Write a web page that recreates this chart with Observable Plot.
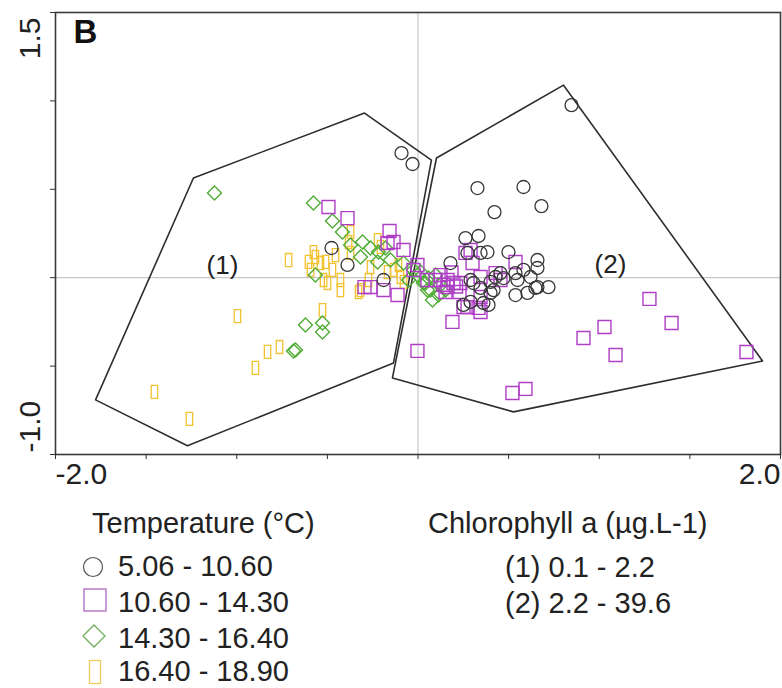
<!DOCTYPE html>
<html>
<head>
<meta charset="utf-8">
<script src="https://cdn.jsdelivr.net/npm/d3@7"></script>
<script src="https://cdn.jsdelivr.net/npm/@observablehq/plot@0.6"></script>
<style>
  body { margin: 0; background: #fff; font-family: "Liberation Sans", Arial, sans-serif; }
  #chart svg, #legend { display: block; }
</style>
</head>
<body>
<div id="chart"></div>
<svg id="legend" width="782" height="186" xmlns="http://www.w3.org/2000/svg" font-family="Liberation Sans, Arial, sans-serif" font-size="29" fill="#222">
  <text x="92" y="31">Temperature (°C)</text>
  <circle cx="93" cy="65" r="9.5" fill="none" stroke="#555" stroke-width="1.2"></circle>
  <text x="118" y="74">5.06 - 10.60</text>
  <rect x="84" y="87" width="22" height="22" fill="none" stroke="#b272c8" stroke-width="1.4"></rect>
  <text x="118" y="110">10.60 - 14.30</text>
  <path d="M94,123 L105,134 L94,145 L83,134 Z" fill="none" stroke="#6fae5c" stroke-width="1.3"></path>
  <text x="118" y="146">14.30 - 16.40</text>
  <rect x="89.5" y="158.5" width="11" height="23" fill="none" stroke="#f0cc5a" stroke-width="1.3"></rect>
  <text x="118" y="179">16.40 - 18.90</text>
  <text x="428" y="31">Chlorophyll a (µg.L-1)</text>
  <text x="505" y="75">(1) 0.1 - 2.2</text>
  <text x="505" y="111">(2) 2.2 - 39.6</text>
</svg>
<script>
// Temperature classes (°C): sample scores [axis1, axis2]
const temp_5_10 = [
  [-0.091,0.705],[-0.030,0.643],[0.847,0.976],[0.328,0.507],[0.582,0.513],[0.422,0.371],
  [0.681,0.405],[0.262,0.224],[0.334,0.236],[-0.477,0.168],[-0.389,0.072],[-0.190,-0.013],
  [0.383,0.145],[0.499,0.145],[0.179,0.083],[0.659,0.100],[0.659,0.055],[0.455,0.026],
  [0.538,0.026],[0.582,0.044],[0.621,0.004],[0.306,-0.030],[0.400,-0.024],[0.472,-0.002],
  [0.549,-0.013],[0.659,-0.053],[0.720,-0.053],[0.538,-0.098],[0.604,-0.086],[0.648,-0.058],
  [0.400,-0.086],[0.361,-0.143],[0.389,-0.154],[0.251,-0.154],[0.345,-0.058],[0.428,0.004],
  [0.273,0.140],[0.290,-0.013],[0.417,-0.070],[0.290,-0.137],[0.345,0.140]
];
const temp_10_14 = [
  [-0.494,0.400],[-0.389,0.337],[-0.157,0.264],[-0.135,0.202],[-0.080,0.157],[-0.003,0.072],
  [-0.295,-0.053],[-0.190,-0.070],[-0.113,-0.098],[0.052,-0.013],[-0.003,-0.414],[0.521,-0.652],
  [0.593,-0.629],[0.913,-0.341],[1.029,-0.279],[1.090,-0.437],[1.277,-0.120],[1.399,-0.256],
  [1.812,-0.420],[0.190,-0.250],[0.262,0.140],[0.163,-0.013],[0.234,-0.030],[0.251,-0.166],
  [0.334,-0.171],[0.345,-0.109],[0.428,0.026],[0.538,0.089],[0.290,0.157],[0.196,-0.030],
  [0.345,0.004],[0.163,-0.053],[0.273,-0.166],[0.345,-0.194],[0.455,-0.013],[0.124,0.015],
  [0.097,-0.013],[0.152,-0.081],[0.229,-0.081],[-0.262,-0.053],[-0.168,0.196],[-0.025,0.044],
  [0.301,0.083],[0.185,0.030],[0.210,-0.050],[0.140,-0.040]
];
const temp_14_16 = [
  [-1.123,0.479],[-0.577,0.423],[-0.472,0.321],[-0.417,0.258],[-0.306,0.202],[-0.262,0.168],
  [-0.218,0.145],[-0.179,0.168],[-0.317,0.117],[-0.566,0.015],[-0.223,0.089],[-0.152,0.100],
  [-0.080,0.083],[-0.003,0.015],[0.030,-0.030],[0.052,-0.070],[-0.621,-0.268],[-0.527,-0.256],
  [-0.527,-0.307],[-0.687,-0.414],[-0.676,-0.409],[0.014,0.032],[0.058,-0.002],[0.097,0.015],
  [0.124,-0.041],[0.069,-0.070],[0.113,-0.098],[0.041,-0.030],[0.152,-0.070],[0.080,-0.126],
  [-0.025,0.044],[-0.052,-0.013],[-0.372,0.185]
];
const temp_16_19 = [
  [-0.714,0.100],[-0.604,0.089],[-0.566,0.117],[-0.538,0.083],[-0.499,-0.030],[-0.428,-0.013],
  [-0.428,-0.070],[-0.328,-0.081],[-0.996,-0.217],[-0.527,-0.183],[-0.764,-0.392],[-0.830,-0.420],
  [-0.897,-0.510],[-1.454,-0.646],[-1.261,-0.799],[-0.577,0.145],[-0.510,0.089],[-0.472,0.044],
  [-0.521,-0.013],[-0.372,0.140],[-0.383,0.202],[-0.372,0.258],[-0.223,0.213],[-0.207,0.174],
  [-0.262,0.060],[-0.168,0.032],[-0.097,0.004],[-0.080,-0.024],[-0.317,-0.070],[-0.273,-0.013],
  [-0.135,0.044],[-0.108,0.072],[-0.455,0.128],[-0.593,0.044]
];
// Chlorophyll a groups: hull vertices
const hullGroup1 = [[-0.295,0.931],[0.074,0.665],[-0.135,-0.482],[-1.272,-0.951],[-1.779,-0.691],[-1.239,0.564]];
const hullGroup2 = [[0.102,0.677],[0.803,1.089],[1.901,-0.471],[0.527,-0.759],[-0.141,-0.567]];
const groupLabels = [{x: -1.079, y: 0.066, label: "(1)"}, {x: 1.062, y: 0.072, label: "(2)"}];
// Axis ticks
const xTicks = [-2, -1.5, -1, -0.5, 0, 0.5, 1, 1.5, 2];
const yTicks = [-1, -0.5, 0, 0.5, 1, 1.5];
const xTickLabels = [{v: -2, t: "-2.0"}, {v: 2, t: "2.0"}];
const yTickLabels = [{v: -1, t: "-1.0"}, {v: 1.5, t: "1.5"}];

const narrowRect = {
  draw(ctx, size) {
    const s = Math.sqrt(size / Math.PI);
    const w = 0.46 * s, h = 0.93 * s;
    ctx.moveTo(-w, -h); ctx.lineTo(w, -h); ctx.lineTo(w, h); ctx.lineTo(-w, h); ctx.closePath();
  }
};
const X = d => d[0], Y = d => d[1];
const font = '"Liberation Sans", Arial, sans-serif';

const chart = Plot.plot({
  width: 782, height: 502,
  marginLeft: 55, marginRight: 2, marginTop: 12, marginBottom: 48,
  style: {fontFamily: font, background: "#fff", overflow: "visible"},
  x: {domain: [-2, 2]},
  y: {domain: [-1, 1.5]},
  marks: [
    Plot.ruleX([0], {stroke: "#c6c6c6", strokeWidth: 1.2}),
    Plot.ruleY([0], {stroke: "#c6c6c6", strokeWidth: 1.2}),
    Plot.line(hullGroup1, {x: X, y: Y, curve: "linear-closed", stroke: "#2e2e2e", strokeWidth: 1.6}),
    Plot.line(hullGroup2, {x: X, y: Y, curve: "linear-closed", stroke: "#2e2e2e", strokeWidth: 1.6}),
    Plot.dot(temp_16_19, {x: X, y: Y, symbol: narrowRect, r: 7, stroke: "#f2c230", strokeWidth: 1.3, fill: "none"}),
    Plot.dot(temp_14_16, {x: X, y: Y, symbol: "diamond2", r: 6.3, stroke: "#52ad38", strokeWidth: 1.4, fill: "none"}),
    Plot.dot(temp_10_14, {x: X, y: Y, symbol: "square", r: 7.3, stroke: "#ae3ec6", strokeWidth: 1.4, fill: "none"}),
    Plot.dot(temp_5_10, {x: X, y: Y, symbol: "circle", r: 6.5, stroke: "#383838", strokeWidth: 1.3, fill: "none"}),
    Plot.text(groupLabels, {x: "x", y: "y", text: "label", fontSize: 26, fill: "#222"}),
    Plot.frame({stroke: "#3a3a3a", strokeWidth: 1.6}),
    Plot.axisX({ticks: xTicks, tickSize: 5, tickFormat: () => "", stroke: "#333"}),
    Plot.axisY({ticks: yTicks, tickSize: 5, tickFormat: () => "", stroke: "#333"}),
    Plot.text([xTickLabels[0]], {x: "v", text: "t", frameAnchor: "bottom", dy: 29, textAnchor: "start", fontSize: 30, fill: "#222"}),
    Plot.text([xTickLabels[1]], {x: "v", text: "t", frameAnchor: "bottom", dy: 29, textAnchor: "end", fontSize: 30, fill: "#222"}),
    Plot.text([yTickLabels[0]], {y: "v", text: "t", frameAnchor: "left", dx: -25, dy: -2, rotate: -90, textAnchor: "start", fontSize: 30, fill: "#222"}),
    Plot.text([yTickLabels[1]], {y: "v", text: "t", frameAnchor: "left", dx: -25, dy: 5, rotate: -90, textAnchor: "end", fontSize: 30, fill: "#222"}),
    Plot.text(["B"], {frameAnchor: "top-left", dx: 18, dy: 7, lineAnchor: "top", text: d => d, fontSize: 33, fontWeight: "bold", fill: "#111"})
  ]
});
document.getElementById("chart").appendChild(chart);
</script>
</body>
</html>
